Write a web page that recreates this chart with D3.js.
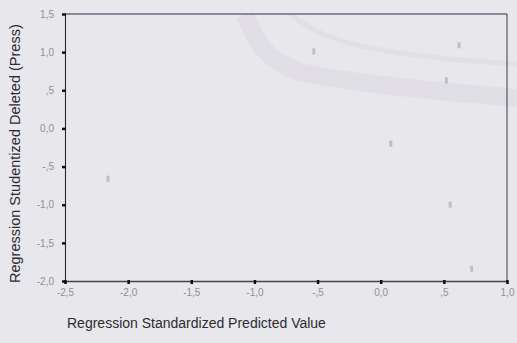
<!DOCTYPE html>
<html><head><meta charset="utf-8">
<script src="https://cdn.jsdelivr.net/npm/d3@7"></script>
<style>
html,body{margin:0;padding:0;background:#e7e6eb;}
svg{display:block;}
</style></head>
<body>
<script>
// Data
const predicted = [-0.53, 0.62, 0.52, 0.08, 0.55, 0.72, -2.16];
const residual  = [1.01, 1.09, 0.63, -0.20, -1.00, -1.84, -0.66];
const xTicks = [-2.5, -2.0, -1.5, -1.0, -0.5, 0.0, 0.5, 1.0];
const xTickLabels = ["-2,5", "-2,0", "-1,5", "-1,0", "-,5", "0,0", ",5", "1,0"];
const yTicks = [1.5, 1.0, 0.5, 0.0, -0.5, -1.0, -1.5, -2.0];
const yTickLabels = ["1,5", "1,0", ",5", "0,0", "-,5", "-1,0", "-1,5", "-2,0"];
const xTitle = "Regression Standardized Predicted Value";
const yTitle = "Regression Studentized Deleted (Press)";

const W = 517, H = 343;
const svg = d3.select("body").append("svg").attr("width", W).attr("height", H);
svg.append("rect").attr("width", W).attr("height", H).attr("fill", "#e8e7ec");

const x = d3.scaleLinear().domain([-2.5, 1.0]).range([65, 507]);
const y = d3.scaleLinear().domain([-2.0, 1.5]).range([281, 14]);

// faint scan watermark bands
svg.append("path")
  .attr("d", "M245,15 C255,40 265,60 300,72 C360,85 450,92 517,98")
  .attr("fill", "none").attr("stroke", "#dedde4").attr("stroke-width", 18).attr("opacity", 0.8);
svg.append("path")
  .attr("d", "M290,14 C310,30 335,42 380,50 C430,58 480,62 517,64")
  .attr("fill", "none").attr("stroke", "#e0dfe6").attr("stroke-width", 5).attr("opacity", 0.8);

// plot frame
svg.append("line").attr("x1", x(-2.5)).attr("x2", x(1.0)).attr("y1", y(1.5)).attr("y2", y(1.5))
  .attr("stroke", "#6f6a80").attr("stroke-width", 1.4);
svg.append("line").attr("x1", x(1.0)).attr("x2", x(1.0)).attr("y1", y(1.5)).attr("y2", y(-2.0))
  .attr("stroke", "#4a4a50").attr("stroke-width", 1.1);

// axes
const xAxis = d3.axisBottom(x).tickValues(xTicks).tickFormat((d, i) => xTickLabels[i]).tickSize(3).tickPadding(5);
const yAxis = d3.axisLeft(y).tickValues(yTicks).tickFormat((d, i) => yTickLabels[i]).tickSize(3).tickPadding(8);

const gx = svg.append("g").attr("transform", `translate(0,${y(-2.0)})`).call(xAxis);
gx.select(".domain").attr("stroke", "#3f4a3a").attr("stroke-width", 1.3);
gx.selectAll(".tick line").attr("stroke", "#111").attr("stroke-width", 2.5).attr("y1", -1);
gx.selectAll(".tick text").attr("fill", "#909096").attr("font-family", "Arial, 'Liberation Sans', sans-serif").attr("font-size", 10);

const gy = svg.append("g").attr("transform", `translate(${x(-2.5)},0)`).call(yAxis);
gy.select(".domain").attr("stroke", "#2a2a2e").attr("stroke-width", 1.1);
gy.selectAll(".tick line").attr("stroke", "#111").attr("stroke-width", 2.5).attr("x1", 1);
gy.selectAll(".tick text").attr("fill", "#909096").attr("font-family", "Arial, 'Liberation Sans', sans-serif").attr("font-size", 10);

// points (faint scanned markers)
svg.append("g").selectAll("rect").data(predicted).join("rect")
  .attr("x", (d) => x(d) - 1.5)
  .attr("y", (d, i) => y(residual[i]) - 3)
  .attr("width", 3).attr("height", 6)
  .attr("fill", "#a3a2ab").attr("opacity", 0.6);

// titles
svg.append("text").attr("x", 67).attr("y", 328)
  .attr("font-family", "Arial, 'Liberation Sans', sans-serif").attr("font-size", 14)
  .attr("fill", "#2c2c30").text(xTitle);
svg.append("text").attr("transform", "translate(20,283) rotate(-90)")
  .attr("font-family", "Arial, 'Liberation Sans', sans-serif").attr("font-size", 14.5)
  .attr("fill", "#2c2c30").text(yTitle);
</script>
</body></html>
